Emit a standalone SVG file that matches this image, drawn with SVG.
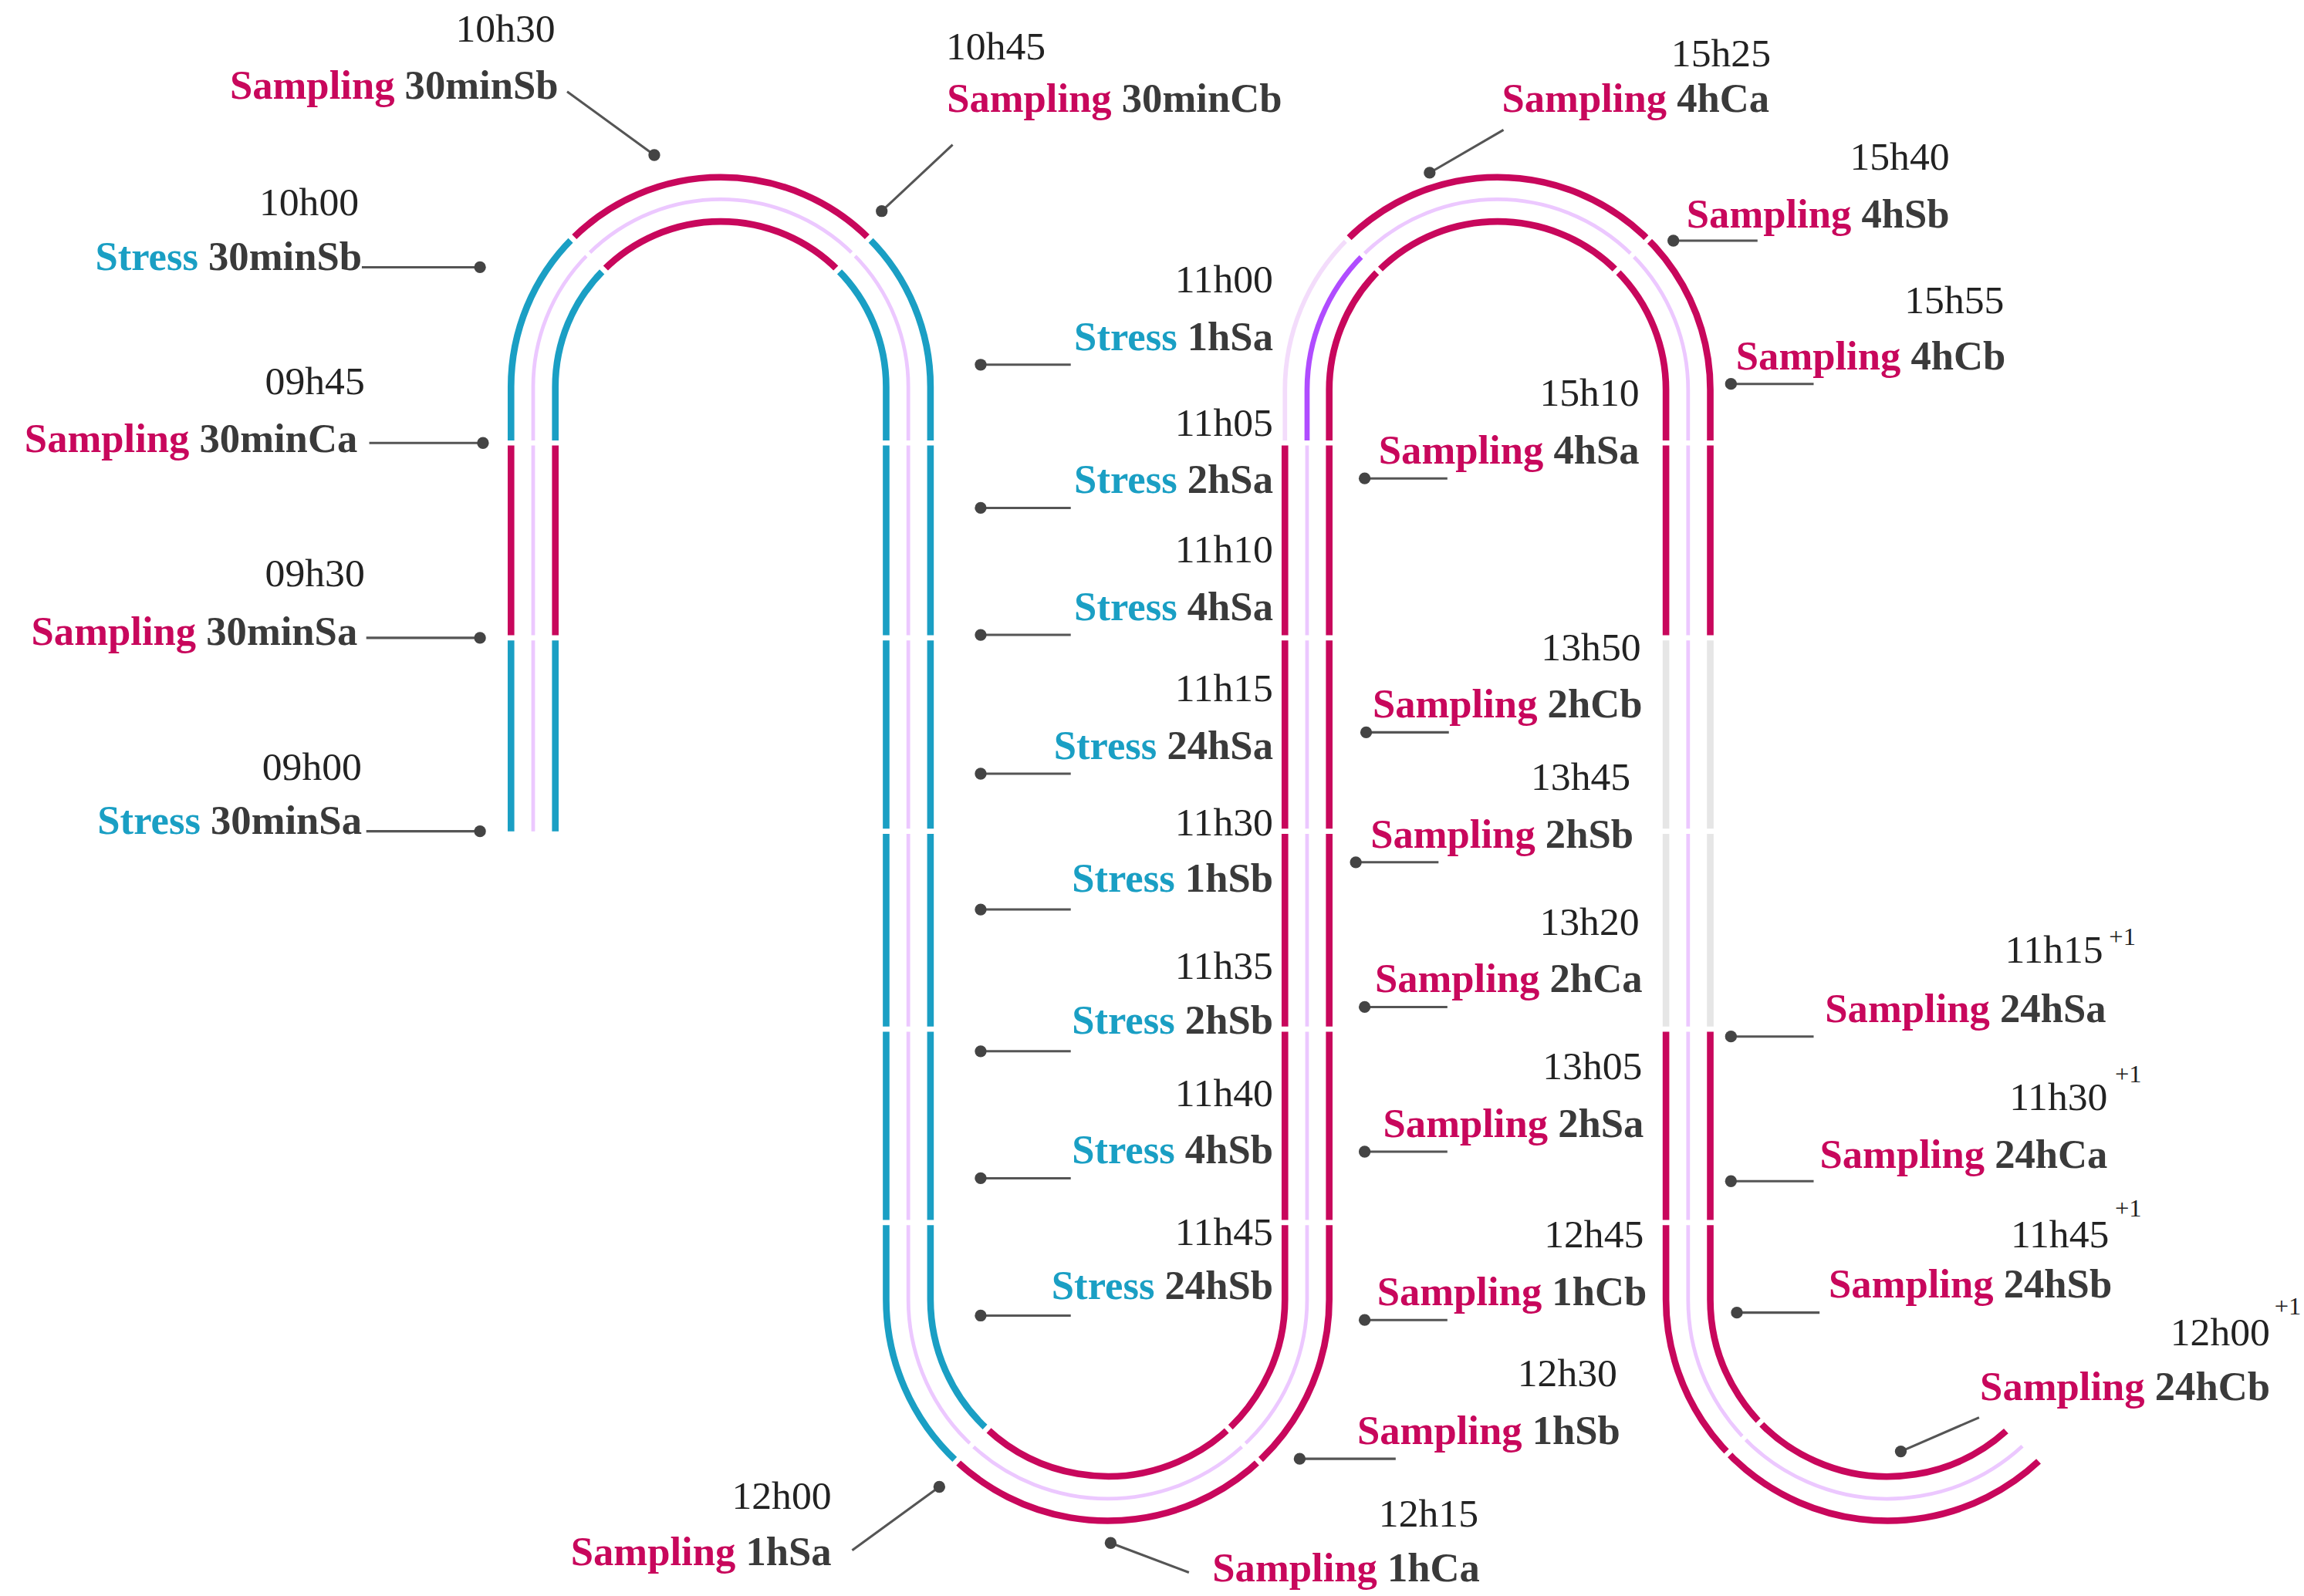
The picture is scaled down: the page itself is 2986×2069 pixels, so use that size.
<svg xmlns="http://www.w3.org/2000/svg" width="2986" height="2069" viewBox="0 0 2986 2069">
<style>
.t{stroke:#1a9fc4;stroke-width:4.5;fill:none}
.c{stroke:#c8075c;stroke-width:4.5;fill:none}
.p{stroke:#e6e6e6;stroke-width:4.5;fill:none}
.q{stroke:#f3dcfb;stroke-width:3;fill:none}
.m{stroke:#ecc8ff;stroke-width:2.5;fill:none}
.v{stroke:#b04cff;stroke-width:3.5;fill:none}
.g{stroke:#fff;stroke-width:3.5}
.l{stroke:#555;stroke-width:1.6;fill:none}
.d{fill:#444}
text{font-family:"Liberation Serif","Times New Roman",serif;font-size:27.5px;fill:#222}
.lb{font-weight:bold;fill:#3a3a3a;text-anchor:end}
.tm{text-anchor:end;font-size:27px}
.S{fill:#c8075c}
.T{fill:#1a9fc4}
.sup{font-size:17px}
</style>
<rect width="2986" height="2069" fill="#fff"/>
<g transform="scale(1.9141)">
<g id="connectors">
<path class="m" d="M361,563 V262 A127 127 0 0 1 615,262 V880 A135 135 0 0 0 885,880 V264 A129 129 0 0 1 1143,264 V880 A135 135 0 0 0 1369.3,979.5"/>
<path class="v" d="M885,300 V264 A129 129 0 0 1 922.8,172.8"/>
<path class="t" d="M346,563 V432"/>
<path class="c" d="M346,432 V300"/>
<path class="t" d="M346,300 V262 A142 142 0 0 1 387.6,161.6"/>
<path class="c" d="M387.6,161.6 A142 142 0 0 1 588.4,161.6"/>
<path class="t" d="M588.4,161.6 A142 142 0 0 1 630,262 V880 A120 120 0 0 0 668.2,967.7"/>
<path class="c" d="M668.2,967.7 A120 120 0 0 0 870,880 V300"/>
<path class="q" d="M870,300 V264 A144 144 0 0 1 912.2,162.2"/>
<path class="c" d="M912.2,162.2 A144 144 0 0 1 1158,264 V432"/>
<path class="p" d="M1158,432 V697"/>
<path class="c" d="M1158,697 V880 A120 120 0 0 0 1358.3,969.2"/>
<path class="t" d="M376,563 V432"/>
<path class="c" d="M376,432 V300"/>
<path class="t" d="M376,300 V262 A112 112 0 0 1 408.8,182.8"/>
<path class="c" d="M408.8,182.8 A112 112 0 0 1 567.2,182.8"/>
<path class="t" d="M567.2,182.8 A112 112 0 0 1 600,262 V880 A150 150 0 0 0 647.7,989.7"/>
<path class="c" d="M647.7,989.7 A150 150 0 0 0 900,880 V264 A114 114 0 0 1 1128,264 V432"/>
<path class="p" d="M1128,432 V697"/>
<path class="c" d="M1128,697 V880 A150 150 0 0 0 1380.3,989.7"/>
<g class="g">
<path d="M338,300H384M338,432H384"/>
<path d="M592,300H638M592,432H638M592,563H638M592,697H638M592,828H638"/>
<path d="M862,300H908M862,432H908M862,563H908M862,697H908M862,828H908"/>
<path d="M1120,300H1166M1120,432H1166M1120,563H1166M1120,697H1166M1120,828H1166"/>
<path d="M413.1,187.1L383.3,157.3M562.9,187.1L592.7,157.3"/>
<path d="M672.3,963.3L643.6,994M827.7,963.3L856.4,994"/>
<path d="M937.6,187.6L907.9,157.9M1090.4,187.6L1120.1,157.9"/>
<path d="M1196,959.2L1165.8,988.4"/>
</g>
<g class="l">
<path d="M384,62L443,105M245,181H325M250,300H327M248,432H325M248,563H325M645,98L597,143"/>
<path d="M664,247H725M664,344H725M664,430H725M664,524H725M664,616H725M664,712H725M664,798H725M664,891H725"/>
<path d="M577,1050L636,1007M805,1065L752,1045M945,988H880"/>
<path d="M924,324H980M925,496H981M918,584H974M924,682H980M924,780H980M924,894H980"/>
<path d="M1018,88L968,117M1190,163H1133M1228,260H1172"/>
<path d="M1228,702H1172M1228,800H1172M1232,889H1176M1340,960L1287,983"/>
</g>
<g class="d">
<circle cx="443" cy="105" r="4"/><circle cx="325" cy="181" r="4"/><circle cx="327" cy="300" r="4"/><circle cx="325" cy="432" r="4"/><circle cx="325" cy="563" r="4"/><circle cx="597" cy="143" r="4"/>
<circle cx="664" cy="247" r="4"/><circle cx="664" cy="344" r="4"/><circle cx="664" cy="430" r="4"/><circle cx="664" cy="524" r="4"/><circle cx="664" cy="616" r="4"/><circle cx="664" cy="712" r="4"/><circle cx="664" cy="798" r="4"/><circle cx="664" cy="891" r="4"/>
<circle cx="636" cy="1007" r="4"/><circle cx="752" cy="1045" r="4"/><circle cx="880" cy="988" r="4"/>
<circle cx="924" cy="324" r="4"/><circle cx="925" cy="496" r="4"/><circle cx="918" cy="584" r="4"/><circle cx="924" cy="682" r="4"/><circle cx="924" cy="780" r="4"/><circle cx="924" cy="894" r="4"/>
<circle cx="968" cy="117" r="4"/><circle cx="1133" cy="163" r="4"/><circle cx="1172" cy="260" r="4"/>
<circle cx="1172" cy="702" r="4"/><circle cx="1172" cy="800" r="4"/><circle cx="1176" cy="889" r="4"/><circle cx="1287" cy="983" r="4"/>
</g>
</g>
<g id="n-30minSb-s"><text class="tm" x="376" y="28">10h30</text><text class="lb" x="378" y="67"><tspan class="S">Sampling</tspan> 30minSb</text></g>
<g id="n-30minSb-st"><text class="tm" x="243" y="146">10h00</text><text class="lb" x="245" y="183"><tspan class="T">Stress</tspan> 30minSb</text></g>
<g id="n-30minCa"><text class="tm" x="247" y="267">09h45</text><text class="lb" x="242" y="306"><tspan class="S">Sampling</tspan> 30minCa</text></g>
<g id="n-30minSa-s"><text class="tm" x="247" y="397">09h30</text><text class="lb" x="242" y="437"><tspan class="S">Sampling</tspan> 30minSa</text></g>
<g id="n-30minSa-st"><text class="tm" x="245" y="528">09h00</text><text class="lb" x="245" y="565"><tspan class="T">Stress</tspan> 30minSa</text></g>
<g id="n-30minCb"><text class="tm" x="708" y="40">10h45</text><text class="lb" x="868" y="76"><tspan class="S">Sampling</tspan> 30minCb</text></g>
<g id="n-st1hSa"><text class="tm" x="862" y="198">11h00</text><text class="lb" x="862" y="237"><tspan class="T">Stress</tspan> 1hSa</text></g>
<g id="n-st2hSa"><text class="tm" x="862" y="295">11h05</text><text class="lb" x="862" y="334"><tspan class="T">Stress</tspan> 2hSa</text></g>
<g id="n-st4hSa"><text class="tm" x="862" y="381">11h10</text><text class="lb" x="862" y="420"><tspan class="T">Stress</tspan> 4hSa</text></g>
<g id="n-st24hSa"><text class="tm" x="862" y="475">11h15</text><text class="lb" x="862" y="514"><tspan class="T">Stress</tspan> 24hSa</text></g>
<g id="n-st1hSb"><text class="tm" x="862" y="566">11h30</text><text class="lb" x="862" y="604"><tspan class="T">Stress</tspan> 1hSb</text></g>
<g id="n-st2hSb"><text class="tm" x="862" y="663">11h35</text><text class="lb" x="862" y="700"><tspan class="T">Stress</tspan> 2hSb</text></g>
<g id="n-st4hSb"><text class="tm" x="862" y="749">11h40</text><text class="lb" x="862" y="788"><tspan class="T">Stress</tspan> 4hSb</text></g>
<g id="n-st24hSb"><text class="tm" x="862" y="843">11h45</text><text class="lb" x="862" y="880"><tspan class="T">Stress</tspan> 24hSb</text></g>
<g id="n-1hSa"><text class="tm" x="563" y="1022">12h00</text><text class="lb" x="563" y="1060"><tspan class="S">Sampling</tspan> 1hSa</text></g>
<g id="n-1hCa"><text class="tm" x="1001" y="1034">12h15</text><text class="lb" x="1002" y="1071"><tspan class="S">Sampling</tspan> 1hCa</text></g>
<g id="n-1hSb"><text class="tm" x="1095" y="939">12h30</text><text class="lb" x="1097" y="978"><tspan class="S">Sampling</tspan> 1hSb</text></g>
<g id="n-4hSa"><text class="tm" x="1110" y="275">15h10</text><text class="lb" x="1110" y="314"><tspan class="S">Sampling</tspan> 4hSa</text></g>
<g id="n-2hCb"><text class="tm" x="1111" y="447">13h50</text><text class="lb" x="1112" y="486"><tspan class="S">Sampling</tspan> 2hCb</text></g>
<g id="n-2hSb"><text class="tm" x="1104" y="535">13h45</text><text class="lb" x="1106" y="574"><tspan class="S">Sampling</tspan> 2hSb</text></g>
<g id="n-2hCa"><text class="tm" x="1110" y="633">13h20</text><text class="lb" x="1112" y="672"><tspan class="S">Sampling</tspan> 2hCa</text></g>
<g id="n-2hSa"><text class="tm" x="1112" y="731">13h05</text><text class="lb" x="1113" y="770"><tspan class="S">Sampling</tspan> 2hSa</text></g>
<g id="n-1hCb"><text class="tm" x="1113" y="845">12h45</text><text class="lb" x="1115" y="884"><tspan class="S">Sampling</tspan> 1hCb</text></g>
<g id="n-4hCa"><text class="tm" x="1199" y="45">15h25</text><text class="lb" x="1198" y="76"><tspan class="S">Sampling</tspan> 4hCa</text></g>
<g id="n-4hSb"><text class="tm" x="1320" y="115">15h40</text><text class="lb" x="1320" y="154"><tspan class="S">Sampling</tspan> 4hSb</text></g>
<g id="n-4hCb"><text class="tm" x="1357" y="212">15h55</text><text class="lb" x="1358" y="250"><tspan class="S">Sampling</tspan> 4hCb</text></g>
<g id="n-24hSa"><text class="tm" x="1424" y="652">11h15</text><text class="sup" x="1428" y="640">+1</text><text class="lb" x="1426" y="692"><tspan class="S">Sampling</tspan> 24hSa</text></g>
<g id="n-24hCa"><text class="tm" x="1427" y="752">11h30</text><text class="sup" x="1432" y="733">+1</text><text class="lb" x="1427" y="791"><tspan class="S">Sampling</tspan> 24hCa</text></g>
<g id="n-24hSb"><text class="tm" x="1428" y="845">11h45</text><text class="sup" x="1432" y="824">+1</text><text class="lb" x="1430" y="879"><tspan class="S">Sampling</tspan> 24hSb</text></g>
<g id="n-24hCb"><text class="tm" x="1537" y="911">12h00</text><text class="sup" x="1540" y="890">+1</text><text class="lb" x="1537" y="948"><tspan class="S">Sampling</tspan> 24hCb</text></g>
</g>
</svg>
